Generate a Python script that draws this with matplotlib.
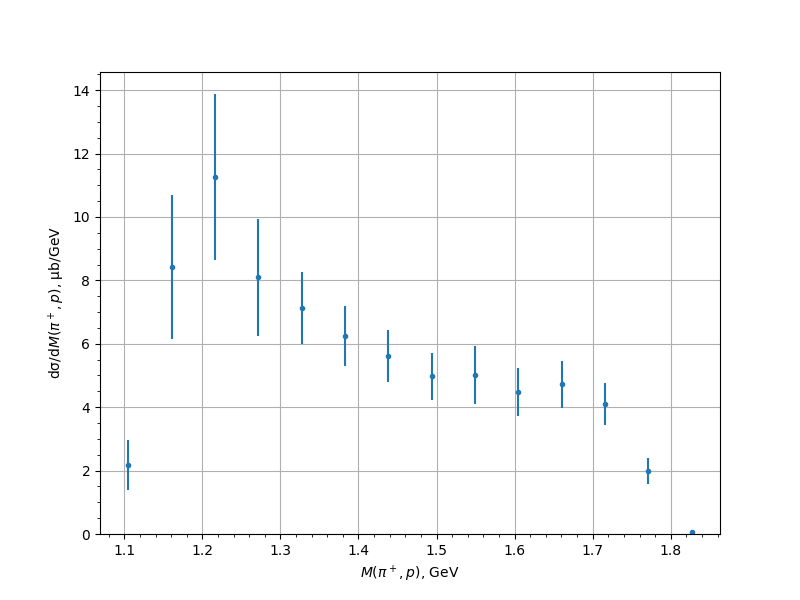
import matplotlib
matplotlib.use("Agg")
import matplotlib.pyplot as plt

# invariant mass bins (GeV) and cross section (ub/GeV)
mass = [1.105, 1.161, 1.2165, 1.2715, 1.328, 1.383, 1.438, 1.494, 1.549,
        1.604, 1.6605, 1.7155, 1.7705, 1.827]
xsec = [2.18, 8.42, 11.26, 8.10, 7.13, 6.24, 5.61, 4.98, 5.01,
        4.48, 4.73, 4.10, 1.99, 0.05]
xsec_err = [0.79, 2.28, 2.62, 1.85, 1.13, 0.95, 0.82, 0.74, 0.91,
            0.76, 0.74, 0.66, 0.41, 0.02]

fig, ax = plt.subplots(figsize=(8, 6), dpi=100)
ax.errorbar(mass, xsec, yerr=xsec_err, fmt='.')
ax.set_xlabel(r'$M(\pi^+, p)$, GeV')
ax.set_ylabel(r'dσ/d$M(\pi^+, p)$, μb/GeV')
ax.set_ylim(bottom=0)
ax.minorticks_on()
ax.grid(which='major')
fig.savefig("out.png")
